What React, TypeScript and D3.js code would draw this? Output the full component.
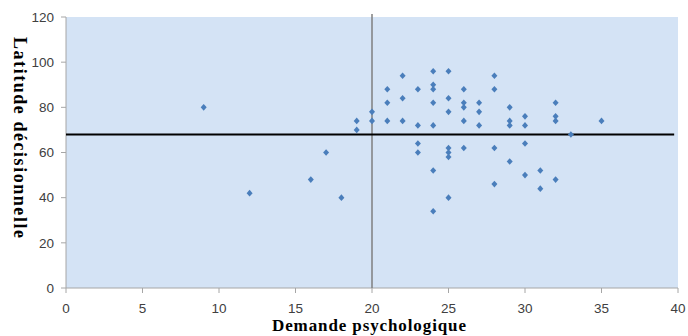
import React from "react";
import * as d3 from "d3";

// Demande psychologique (x) / Latitude décisionnelle (y)
const demande = [
  9, 12, 16, 17, 18, 19, 19, 20, 20, 21, 21, 21, 22, 22, 22, 23, 23, 23, 23,
  24, 24, 24, 24, 24, 24, 24, 25, 25, 25, 25, 25, 25, 25, 26, 26, 26, 26, 26,
  27, 27, 27, 28, 28, 28, 28, 29, 29, 29, 29, 30, 30, 30, 30, 31, 31, 32, 32,
  32, 32, 33, 35,
];
const latitude = [
  80, 42, 48, 60, 40, 74, 70, 78, 74, 88, 82, 74, 94, 84, 74, 88, 72, 64, 60,
  96, 90, 88, 82, 72, 52, 34, 96, 84, 78, 62, 60, 58, 40, 88, 82, 80, 74, 62,
  82, 78, 72, 94, 88, 62, 46, 80, 74, 72, 56, 76, 72, 64, 50, 52, 44, 82, 76,
  74, 48, 68, 74,
];

const xTicks = [0, 5, 10, 15, 20, 25, 30, 35, 40];
const yTicks = [0, 20, 40, 60, 80, 100, 120];

// lignes de référence (moyennes)
const meanDemande = 20;
const meanLatitude = 68;
const vLineRange = [0, 121.3];
const hLineRange = [0, 39.75];

export default function App() {
  const width = 688;
  const height = 336;
  const margin = { top: 17, right: 10, bottom: 48, left: 66 };

  const x = d3
    .scaleLinear()
    .domain([0, 40])
    .range([margin.left, width - margin.right]);

  const y = d3
    .scaleLinear()
    .domain([0, 120])
    .range([height - margin.bottom, margin.top]);

  const points = demande.map((d, i) => ({ x: d, y: latitude[i] }));
  const diamond = "M0,-3.3L3,0L0,3.3L-3,0Z";
  const axisColor = "#a6a6a6";
  const labelFont = "'Liberation Sans', Arial, sans-serif";
  const titleFont = "'Liberation Serif', 'Times New Roman', serif";

  return (
    <svg
      width={width}
      height={height}
      style={{ position: "absolute", left: 0, top: 0, background: "#fff" }}
    >
      {/* Zone de tracé */}
      <rect
        x={margin.left}
        y={margin.top}
        width={width - margin.left - margin.right}
        height={height - margin.top - margin.bottom}
        fill="#d4e3f5"
      />

      {/* Axe Y */}
      <line
        x1={margin.left}
        x2={margin.left}
        y1={y(0)}
        y2={y(120)}
        stroke={axisColor}
      />
      {yTicks.map((t) => (
        <g key={t}>
          <line
            x1={margin.left - 5}
            x2={margin.left}
            y1={y(t)}
            y2={y(t)}
            stroke={axisColor}
          />
          <text
            x={margin.left - 12}
            y={y(t)}
            dy="0.35em"
            textAnchor="end"
            fontFamily={labelFont}
            fontSize={13.5}
            fill="#404040"
          >
            {t}
          </text>
        </g>
      ))}

      {/* Axe X */}
      <line
        x1={x(0)}
        x2={x(40)}
        y1={y(0)}
        y2={y(0)}
        stroke={axisColor}
      />
      {xTicks.map((t) => (
        <g key={t}>
          <line
            x1={x(t)}
            x2={x(t)}
            y1={y(0)}
            y2={y(0) + 5}
            stroke={axisColor}
          />
          <text
            x={x(t)}
            y={y(0) + 25}
            textAnchor="middle"
            fontFamily={labelFont}
            fontSize={13.5}
            fill="#404040"
          >
            {t}
          </text>
        </g>
      ))}

      {/* Lignes de référence */}
      <line
        x1={x(meanDemande)}
        x2={x(meanDemande)}
        y1={y(vLineRange[0])}
        y2={y(vLineRange[1])}
        stroke="#7f7f7f"
        strokeWidth={1.5}
      />
      <line
        x1={x(hLineRange[0])}
        x2={x(hLineRange[1])}
        y1={y(meanLatitude)}
        y2={y(meanLatitude)}
        stroke="#000"
        strokeWidth={2}
      />

      {/* Points */}
      {points.map((p, i) => (
        <path
          key={i}
          d={diamond}
          transform={`translate(${x(p.x)},${y(p.y)})`}
          fill="#4a7ebb"
        />
      ))}

      {/* Titres des axes */}
      <text
        transform="translate(20, 137.5) rotate(90)"
        textAnchor="middle"
        dy="0.35em"
        fontFamily={titleFont}
        fontWeight="bold"
        fontSize={18}
        textLength={201}
        lengthAdjust="spacing"
        fill="#000"
      >
        Latitude décisionnelle
      </text>
      <text
        x={369}
        y={331}
        textAnchor="middle"
        fontFamily={titleFont}
        fontWeight="bold"
        fontSize={17}
        textLength={194}
        lengthAdjust="spacing"
        fill="#000"
      >
        Demande psychologique
      </text>
    </svg>
  );
}
